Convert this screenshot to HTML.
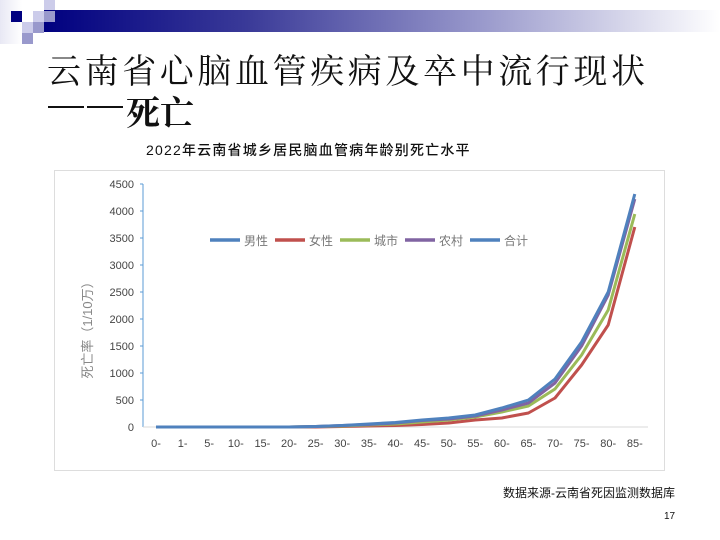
<!DOCTYPE html>
<html><head><meta charset="utf-8"><style>
html,body{margin:0;padding:0;background:#fff;}
body{width:720px;height:540px;position:relative;overflow:hidden;font-family:"Liberation Serif","Noto Serif CJK SC",serif;}
.sq{position:absolute;width:11px;height:11px;}
#bar{position:absolute;left:44px;top:10px;width:676px;height:22px;background:linear-gradient(to right,#000080 0%,#3a3a98 30%,#9a9acc 65%,#ffffff 100%);}
#t1{position:absolute;left:47px;top:44px;font-size:34px;letter-spacing:3.6px;color:#111;white-space:nowrap;}
#t2{position:absolute;left:126px;top:86px;font-size:34px;color:#111;white-space:nowrap;}
.dash{position:absolute;top:106px;height:2px;width:36px;background:#111;}
#ct{position:absolute;left:146px;top:140px;font-size:14px;letter-spacing:1.2px;color:#111;white-space:nowrap;font-family:"Liberation Sans","Noto Sans CJK SC",sans-serif;font-weight:500;}
#src{position:absolute;left:503px;top:484px;font-size:12px;color:#111;font-family:"Liberation Sans","Noto Sans CJK SC",sans-serif;}
#pg{position:absolute;left:664px;top:511px;font-size:10px;color:#111;font-family:"Liberation Sans",sans-serif;}
</style></head><body>
<div style="position:absolute;left:0;top:0;width:22px;height:44px;background:linear-gradient(to right,#e8e8f4,#fff);"></div>
<div class="sq" style="left:11px;top:11px;background:#000080"></div>
<div class="sq" style="left:33px;top:11px;background:#ccccea"></div>
<div class="sq" style="left:44px;top:0;background:#ccccea"></div>
<div class="sq" style="left:22px;top:22px;background:#ccccea"></div>
<div class="sq" style="left:33px;top:22px;background:#9999cc"></div>
<div class="sq" style="left:22px;top:33px;background:#9999cc"></div>
<div id="bar"></div>
<div class="sq" style="left:44px;top:11px;background:#9999cc"></div>
<div id="t1">云南省心脑血管疾病及卒中流行现状</div>
<div class="dash" style="left:48px"></div><div class="dash" style="left:87px"></div>
<div id="t2"><b>死亡</b></div>
<div id="ct">2022年云南省城乡居民脑血管病年龄别死亡水平</div>
<svg style="position:absolute;left:0;top:0" width="720" height="540" font-family="Liberation Sans, Noto Sans CJK SC, sans-serif">
<rect x="54.5" y="170.5" width="610" height="300" fill="#fff" stroke="#ddd"/>
<line x1="143" y1="184" x2="143" y2="427" stroke="#5b9bd5" stroke-width="1"/>
<line x1="143" y1="427" x2="648" y2="427" stroke="#d9d9d9"/>
<g stroke="#5b9bd5"><line x1="140" y1="184" x2="143" y2="184"/><line x1="140" y1="211" x2="143" y2="211"/><line x1="140" y1="238" x2="143" y2="238"/><line x1="140" y1="265" x2="143" y2="265"/><line x1="140" y1="292" x2="143" y2="292"/><line x1="140" y1="319" x2="143" y2="319"/><line x1="140" y1="346" x2="143" y2="346"/><line x1="140" y1="373" x2="143" y2="373"/><line x1="140" y1="400" x2="143" y2="400"/></g>
<g font-size="11" fill="#444" text-anchor="end">
<text x="134" y="188">4500</text><text x="134" y="215">4000</text><text x="134" y="242">3500</text><text x="134" y="269">3000</text><text x="134" y="296">2500</text><text x="134" y="323">2000</text><text x="134" y="350">1500</text><text x="134" y="377">1000</text><text x="134" y="404">500</text><text x="134" y="431">0</text>
</g>
<text transform="translate(92,327) rotate(-90)" font-size="13" fill="#888" text-anchor="middle">死亡率（1/10万）</text>
<g font-size="11" fill="#444" text-anchor="middle">
<text x="156" y="447">0-</text><text x="182.6" y="447">1-</text><text x="209.2" y="447">5-</text><text x="235.8" y="447">10-</text><text x="262.4" y="447">15-</text><text x="289" y="447">20-</text><text x="315.6" y="447">25-</text><text x="342.2" y="447">30-</text><text x="368.8" y="447">35-</text><text x="395.4" y="447">40-</text><text x="422" y="447">45-</text><text x="448.6" y="447">50-</text><text x="475.2" y="447">55-</text><text x="501.8" y="447">60-</text><text x="528.4" y="447">65-</text><text x="555" y="447">70-</text><text x="581.6" y="447">75-</text><text x="608.2" y="447">80-</text><text x="634.8" y="447">85-</text>
</g>
<g fill="none" stroke-width="3" stroke-linejoin="round">
<polyline stroke="#c0504d" points="156,427 182.6,427 209.2,427 235.8,427 262.4,427 289,427 315.6,427 342.2,426.5 368.8,426 395.4,425.5 422,424.5 448.6,423 475.2,420 501.8,418 528.4,413 555,398 581.6,365 608.2,325 634.8,227"/>
<polyline stroke="#9bbb59" points="156,427 182.6,427 209.2,427 235.8,427 262.4,427 289,427 315.6,426.5 342.2,426 368.8,425 395.4,424 422,422 448.6,420 475.2,417 501.8,412 528.4,406 555,389 581.6,355 608.2,310 634.8,214"/>
<polyline stroke="#8064a2" points="156,427 182.6,427 209.2,427 235.8,427 262.4,427 289,427 315.6,426.5 342.2,425.5 368.8,424.5 395.4,423 422,420.5 448.6,419 475.2,416 501.8,410 528.4,403 555,383 581.6,346 608.2,295 634.8,199"/>
<polyline stroke="#4f81bd" points="156,427 182.6,427 209.2,427 235.8,427 262.4,427 289,427 315.6,426.5 342.2,425.5 368.8,424 395.4,422.5 422,420 448.6,418 475.2,415 501.8,408 528.4,400 555,379 581.6,342 608.2,292 634.8,194"/>
</g>
<g stroke-width="3.5">
<line x1="210" y1="240" x2="240" y2="240" stroke="#4f81bd"/>
<line x1="275" y1="240" x2="305" y2="240" stroke="#c0504d"/>
<line x1="340" y1="240" x2="370" y2="240" stroke="#9bbb59"/>
<line x1="405" y1="240" x2="435" y2="240" stroke="#8064a2"/>
<line x1="470" y1="240" x2="500" y2="240" stroke="#4f81bd"/>
</g>
<g font-size="12" fill="#777">
<text x="244" y="245">男性</text><text x="309" y="245">女性</text><text x="374" y="245">城市</text><text x="439" y="245">农村</text><text x="504" y="245">合计</text>
</g>
</svg>
<div id="src">数据来源-云南省死因监测数据库</div>
<div id="pg">17</div>
</body></html>
